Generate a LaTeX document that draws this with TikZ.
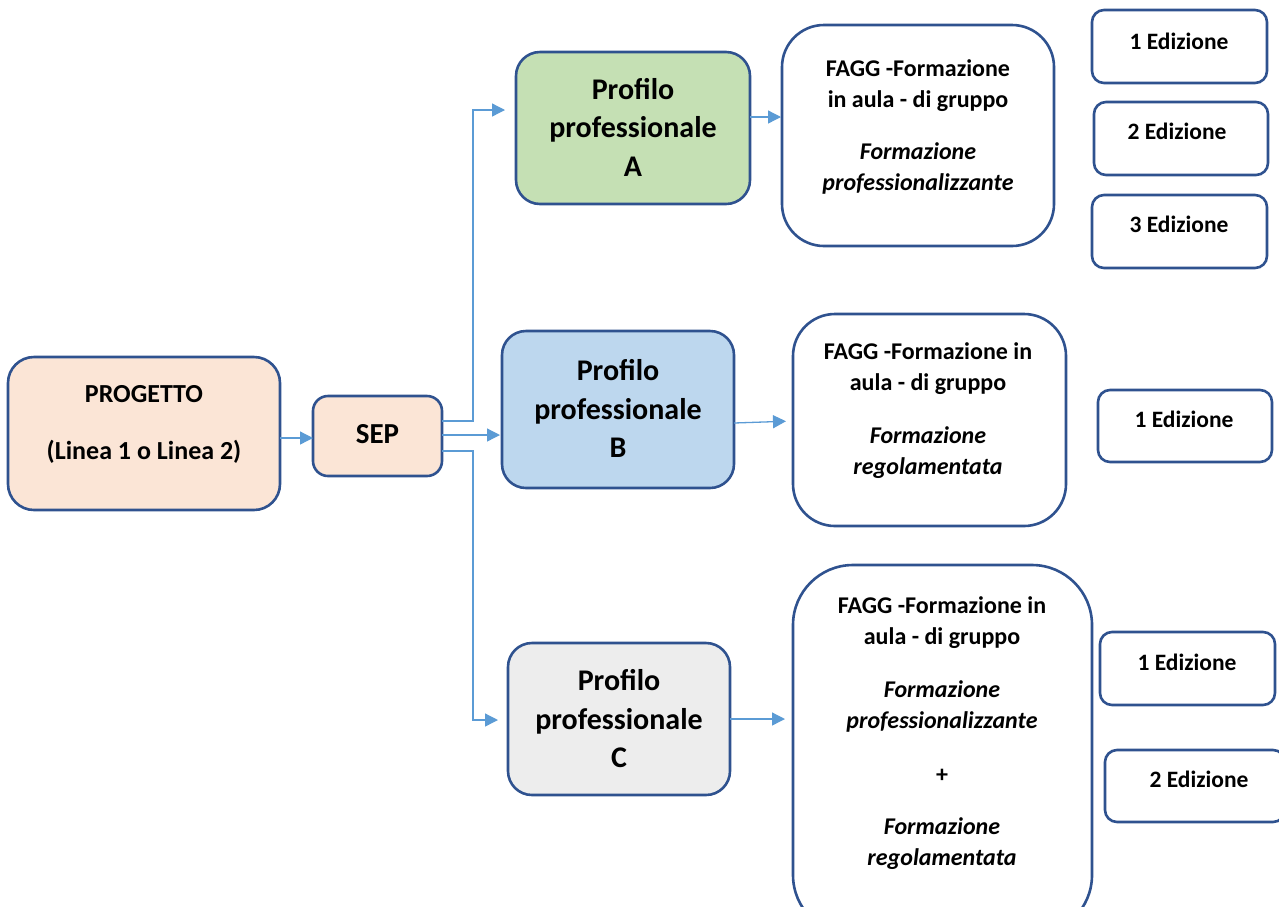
\documentclass[tikz,border=0pt]{standalone}
\usepackage{fontspec}
\setmainfont{Carlito}
\usetikzlibrary{arrows.meta}
\definecolor{bord}{HTML}{2F528F}
\definecolor{connc}{HTML}{5B9BD5}
\definecolor{peachc}{HTML}{FBE5D6}
\definecolor{greenc}{HTML}{C5E0B4}
\definecolor{bluec}{HTML}{BDD7EE}
\definecolor{greyc}{HTML}{EDEDED}
\begin{document}
\begin{tikzpicture}[x=1pt,y=-1pt,
  box/.style={draw=bord,line width=2.6pt,inner sep=0pt,outer sep=0pt},
  profbox/.style={box,rounded corners=24pt,align=center,font=\bfseries\fontsize{30}{38.5}\selectfont},
  faggbox/.style={box,fill=white},
  edbox/.style={box,fill=white,rounded corners=12pt,minimum width=175pt,minimum height=73pt},
  edtxt/.style={font=\bfseries\fontsize{23.5}{28}\selectfont,inner sep=0pt},
  ftxt/.style={align=center,inner sep=0pt,font=\bfseries\fontsize{24}{31}\selectfont},
  conn/.style={draw=connc,line width=1.3pt,-{Triangle[length=13pt,width=13pt]}}
]
\useasboundingbox (0,0) rectangle (1279,906);
\clip (0,0) rectangle (1279,906);

% left boxes
\node[box,fill=peachc,rounded corners=26pt,minimum width=272pt,minimum height=153pt] (prog) at (144,433.5) {};
\node[ftxt,font=\bfseries\fontsize{26}{57}\selectfont] (progt) at (144,424) {PROGETTO\\(Linea 1 o Linea 2)};
\node[box,fill=peachc,rounded corners=15pt,minimum width=129pt,minimum height=80pt,font=\bfseries\fontsize{29}{34}\selectfont] (sep) at (377.5,436) {\raisebox{4pt}{SEP}};

% profiles
\node[profbox,fill=greenc,minimum width=234pt,minimum height=152pt] (pa) at (633,128) {\raisebox{2pt}{Profilo}\\\raisebox{2pt}{professionale}\\\raisebox{2pt}{A}};
\node[profbox,fill=bluec,minimum width=232pt,minimum height=157pt] (pb) at (618,409.5) {\raisebox{2pt}{Profilo}\\\raisebox{2pt}{professionale}\\\raisebox{2pt}{B}};
\node[profbox,fill=greyc,minimum width=222pt,minimum height=152pt] (pc) at (619,719) {\raisebox{1pt}{Profilo}\\\raisebox{1pt}{professionale}\\\raisebox{1pt}{C}};

% FAGG boxes
\node[faggbox,rounded corners=42pt,minimum width=272pt,minimum height=221pt] (fa) at (918,135.5) {};
\node[ftxt] (fat) at (918,127) {FAGG -Formazione\\in aula - di gruppo\\[21pt]
 \itshape Formazione\\ \itshape professionalizzante};

\node[faggbox,rounded corners=42pt,minimum width=273pt,minimum height=212pt] (fb) at (929.5,420) {};
\node[ftxt] (fbt) at (928,411) {FAGG -Formazione in\\aula - di gruppo\\[22pt]
 \itshape Formazione\\ \itshape regolamentata};

\node[faggbox,rounded corners=60pt,minimum width=299pt,minimum height=370pt] (fc) at (942.5,750) {};
\node[ftxt] (fct) at (942,733) {FAGG -Formazione in\\aula - di gruppo\\[22pt]
 \itshape Formazione\\ \itshape professionalizzante\\[23pt]
 +\\[21pt]
 \itshape Formazione\\ \itshape regolamentata};

% Edizione boxes
\node[edbox] (a1) at (1179.5,46.5) {};
\node[edtxt] (a1t) at (1179,41) {1 Edizione};
\node[edbox,minimum width=174pt] (a2) at (1181,138.5) {};
\node[edtxt] (a2t) at (1177,131) {2 Edizione};
\node[edbox] (a3) at (1179.5,231.5) {};
\node[edtxt] (a3t) at (1179,224) {3 Edizione};
\node[edbox,minimum width=174pt,minimum height=72pt] (b1) at (1185,426) {};
\node[edtxt] (b1t) at (1184,419) {1 Edizione};
\node[edbox] (c1) at (1187.5,668.5) {};
\node[edtxt] (c1t) at (1187,662) {1 Edizione};
\node[edbox,minimum width=180pt,minimum height=72pt] (c2) at (1195,786) {};
\node[edtxt] (c2t) at (1199,779) {2 Edizione};

% connectors
\coordinate (ja) at (473,110);
\coordinate (jc) at (473,720);
\draw[conn] (prog.east |- 0,438) -- (sep.west |- 0,438);
\draw[conn,shorten >=11pt] (sep.east |- 0,421) -| (ja) -- (pa.west |- ja);
\draw[conn,shorten >=2pt] (sep.east |- 0,435) -- (pb.west |- 0,435);
\draw[conn,shorten >=10pt] (sep.east |- 0,451) -| (jc) -- (pc.west |- jc);
\draw[conn,shorten >=1pt] (pa.east |- 0,117) -- (fa.west |- 0,117);
\draw[conn,shorten >=7pt] (pb.east |- 0,423) -- (fb.west |- 0,421);
\draw[conn,shorten >=8pt] (pc.east |- 0,719) -- (fc.west |- 0,719);
\end{tikzpicture}
\end{document}
